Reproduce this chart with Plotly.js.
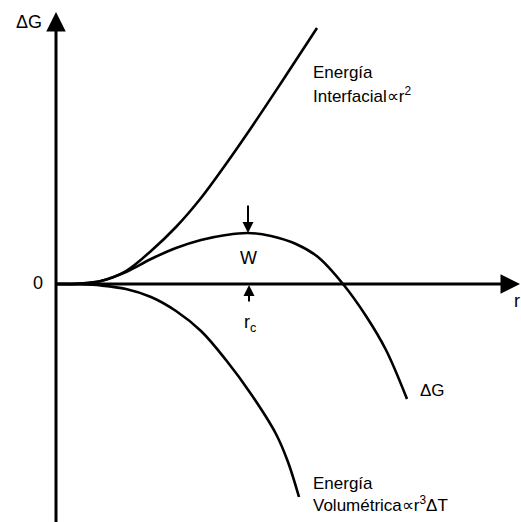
<!DOCTYPE html>
<html>
<head>
<meta charset="utf-8">
<script src="https://cdn.plot.ly/plotly-3.0.1.min.js"></script>
<style>html,body{margin:0;padding:0;background:#fff;}#chart{width:521px;height:522px;}</style>
</head>
<body>
<div id="chart"></div>
<script>
// radius values and free-energy values (arbitrary units)
const rInterfacial = [0, 25, 45, 70, 95, 120, 145, 170, 195, 225, 261];
const gInterfacial = [0, 0.5, 3, 13, 33, 57, 86, 120, 156, 201, 256];

const rTotal = [0, 25, 45, 70, 95, 120, 145, 170, 192, 215, 240, 262, 287, 310, 330, 351];
const gTotal = [0, 0.5, 3, 12, 25, 36, 44, 49, 51, 48, 40, 27, 0, -32, -66, -115];

const rVolumetric = [0, 25, 45, 70, 95, 120, 145, 170, 195, 220, 232, 243];
const gVolumetric = [0, -0.3, -1.5, -5, -13, -27, -47, -76, -110, -150, -178, -213];

const rCritical = 192;
const gBarrier = 51;

const FONT = 'Liberation Sans, Arial, sans-serif';
const lineStyle = {color: '#000', width: 2.6, shape: 'spline', smoothing: 1};

const traces = [
  {x: rInterfacial, y: gInterfacial, mode: 'lines', line: lineStyle, hoverinfo: 'skip'},
  {x: rTotal, y: gTotal, mode: 'lines', line: lineStyle, hoverinfo: 'skip'},
  {x: rVolumetric, y: gVolumetric, mode: 'lines', line: lineStyle, hoverinfo: 'skip'}
];

function arrow(x, y, ax, ay, w, size) {
  return {x: x, y: y, ax: ax, ay: ay, xref: 'x', yref: 'y', axref: 'x', ayref: 'y',
    text: '', showarrow: true, arrowhead: 2, arrowsize: size, arrowwidth: w,
    arrowcolor: '#000', standoff: 0, startstandoff: 0};
}
function label(x, y, text, anchor, size) {
  return {x: x, y: y, xref: 'x', yref: 'y', text: text, showarrow: false,
    xanchor: anchor || 'left', yanchor: 'middle', align: 'left',
    font: {family: FONT, size: size || 17, color: '#000'}};
}

const annotations = [
  arrow(0, 272, 0, -240, 3, 1.3),
  arrow(464, 0, 0, 0, 3, 1.3),
  arrow(rCritical, gBarrier, rCritical, gBarrier + 29, 2, 1.1),
  arrow(rCritical + 1, -1, rCritical + 1, -19, 2, 1.1),
  label(-42, 262, 'ΔG', 'left', 18),
  label(-18, 1, '0', 'center', 18),
  label(461, -17, 'r', 'center', 18),
  label(192, 26, 'W', 'center', 18),
  label(194, -39, 'r<sub>c</sub>', 'center', 18),
  label(255, 212, 'Energía', 'left', 17),
  label(255, 189, 'Interfacial∝r<sup>2</sup>', 'left', 17),
  label(362, -106, 'ΔG', 'left', 17),
  label(255, -199, 'Energía', 'left', 17),
  label(255, -220, 'Volumétrica∝r<sup>3</sup>ΔT', 'left', 17)
];

const layout = {
  width: 521, height: 522,
  margin: {l: 0, r: 0, t: 0, b: 0},
  paper_bgcolor: '#fff', plot_bgcolor: '#fff',
  showlegend: false,
  xaxis: {range: [-56, 465], visible: false, fixedrange: true},
  yaxis: {range: [-238, 284], visible: false, fixedrange: true},
  annotations: annotations
};

Plotly.newPlot('chart', traces, layout, {staticPlot: true, displayModeBar: false});
</script>
</body>
</html>
